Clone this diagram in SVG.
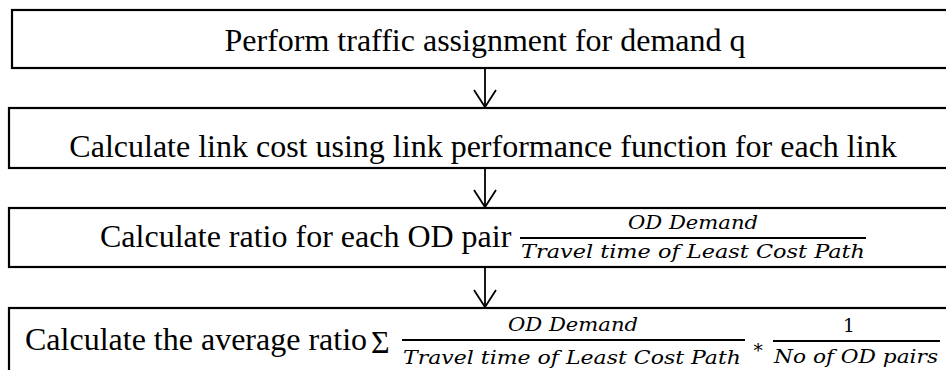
<svg xmlns="http://www.w3.org/2000/svg" width="946" height="370" viewBox="0 0 946 370">
  <defs>
    <style>
      .box { fill: #ffffff; stroke: #000000; stroke-width: 2.2; }
      .label { font-family: "Liberation Serif", "Times New Roman", serif; font-size: 32px; fill: #000000; }
      .math { font-family: "DejaVu Serif", "Liberation Serif", serif; font-style: italic; font-size: 18.5px; fill: #000000; }
      .num { font-family: "DejaVu Serif", "Liberation Serif", serif; font-size: 18.5px; fill: #000000; }
      .bar { stroke: #000000; stroke-width: 2.2; }
      .flow { stroke: #000000; stroke-width: 1.8; fill: none; }
    </style>
    <!-- open V head, drawn along +x so orient="auto" turns it to the line direction -->
    <marker id="openHead" viewBox="0 0 20 24" refX="18" refY="12" markerWidth="20" markerHeight="24" markerUnits="userSpaceOnUse" orient="auto">
      <polyline points="1,1 18,12 1,23" fill="none" stroke="#000000" stroke-width="1.8"/>
    </marker>
  </defs>

  <rect width="946" height="370" fill="#ffffff"/>

  <!-- step 1 -->
  <g id="assign">
    <rect class="box" x="12" y="10" width="960" height="58"/>
    <text class="label" x="485" y="51" text-anchor="middle">Perform traffic assignment for demand q</text>
  </g>

  <!-- step 2 -->
  <g id="link-cost">
    <rect class="box" x="9" y="108" width="960" height="60"/>
    <text class="label" x="483" y="157" text-anchor="middle">Calculate link cost using link performance function for each link</text>
  </g>

  <!-- step 3 -->
  <g id="od-ratio">
    <rect class="box" x="9" y="208" width="960" height="59"/>
    <text class="label" x="100" y="247">Calculate ratio for each OD pair</text>
    <text class="math" x="693" y="229" text-anchor="middle" textLength="130" lengthAdjust="spacingAndGlyphs">OD Demand</text>
    <line class="bar" x1="520" y1="238" x2="866" y2="238"/>
    <text class="math" x="521" y="258" textLength="344" lengthAdjust="spacingAndGlyphs">Travel time  of Least Cost Path</text>
  </g>

  <!-- step 4 -->
  <g id="avg-ratio">
    <rect class="box" x="9" y="308" width="960" height="90"/>
    <text class="label" x="25" y="350">Calculate the average ratio</text>
    <text class="label" x="371" y="353" font-size="33">Σ</text>
    <text class="math" x="573" y="331" text-anchor="middle" textLength="130" lengthAdjust="spacingAndGlyphs">OD Demand</text>
    <line class="bar" x1="402" y1="340" x2="745" y2="340"/>
    <text class="math" x="403" y="364" textLength="338" lengthAdjust="spacingAndGlyphs">Travel time of Least Cost Path</text>
    <text class="num" x="758" y="357" text-anchor="middle" font-size="28">*</text>
    <text class="num" x="849" y="332" text-anchor="middle">1</text>
    <line class="bar" x1="773" y1="341" x2="940" y2="341"/>
    <text class="math" x="774" y="363" textLength="164" lengthAdjust="spacingAndGlyphs">No of OD pairs</text>
  </g>

  <!-- connectors -->
  <g id="connectors">
    <line class="flow" x1="485" y1="69" x2="485" y2="107" marker-end="url(#openHead)"/>
    <line class="flow" x1="485" y1="169" x2="485" y2="207" marker-end="url(#openHead)"/>
    <line class="flow" x1="485" y1="268" x2="485" y2="307" marker-end="url(#openHead)"/>
  </g>
</svg>
